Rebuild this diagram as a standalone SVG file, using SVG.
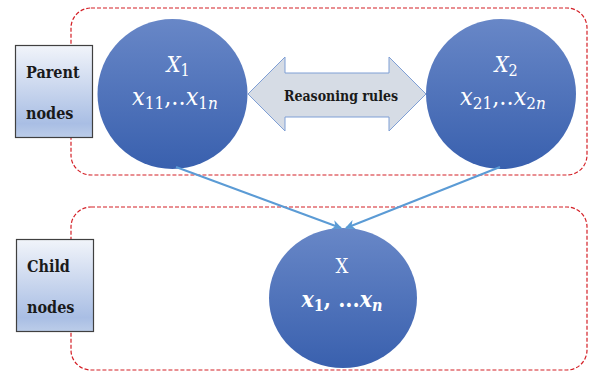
<svg xmlns="http://www.w3.org/2000/svg" width="590" height="374" viewBox="0 0 590 374">
<defs>
<linearGradient id="gc" x1="0" y1="0" x2="0" y2="1">
<stop offset="0" stop-color="#6887c7"/>
<stop offset="1" stop-color="#3960ae"/>
</linearGradient>
<linearGradient id="gb" x1="0" y1="0" x2="0" y2="1">
<stop offset="0" stop-color="#f1f4fa"/>
<stop offset="0.85" stop-color="#a9bee4"/>
<stop offset="1" stop-color="#bccde9"/>
</linearGradient>
<marker id="ah" viewBox="0 0 10 10" refX="9" refY="5" markerWidth="10" markerHeight="10" markerUnits="userSpaceOnUse" orient="auto">
<path d="M0,0 L10,5 L0,10 L3,5 Z" fill="#5b9bd5"/>
</marker>
<style>
text{font-family:"DejaVu Serif Condensed","DejaVu Serif",serif;font-stretch:condensed}
.grp{fill:none;stroke:#d42027;stroke-width:1.2;stroke-dasharray:4 2}
.box{fill:url(#gb);stroke:#404040;stroke-width:1.2}
.lbl{font-weight:bold;font-size:16px;fill:#1a1a1a}
.node{fill:url(#gc)}
.m{fill:#ffffff;text-anchor:middle}
.conn{stroke:#5b9bd5;stroke-width:2;fill:none;marker-end:url(#ah)}
</style>
</defs>
<rect class="grp" x="71" y="8" width="516" height="167" rx="20"/>
<rect class="grp" x="71" y="207" width="516" height="163" rx="20"/>
<g id="parent-label">
<rect class="box" x="15.5" y="45.5" width="77" height="92"/>
<text class="lbl" x="26" y="78">Parent</text>
<text class="lbl" x="26" y="119">nodes</text>
</g>
<g id="child-label">
<rect class="box" x="16.5" y="239.5" width="77" height="92"/>
<text class="lbl" x="27" y="272">Child</text>
<text class="lbl" x="27" y="313">nodes</text>
</g>
<g id="reasoning">
<path d="M248,94 L285,57 L285,73 L389,73 L389,57 L426,94 L389,131 L389,117 L285,117 L285,131 Z" fill="#d6dce5" stroke="#7f9fd5" stroke-width="1"/>
<text x="341" y="101" font-weight="bold" font-size="14" text-anchor="middle" fill="#1a1a1a">Reasoning rules</text>
</g>
<g id="X1">
<circle class="node" cx="172.5" cy="94" r="75"/>
<text class="m" x="178" y="72" font-size="22"><tspan font-style="italic">X</tspan><tspan font-size="16" dy="4">1</tspan></text>
<text class="m" x="175" y="105" font-size="25"><tspan font-style="italic">x</tspan><tspan font-size="17" dy="4">11</tspan><tspan dy="-4">,..</tspan><tspan font-style="italic">x</tspan><tspan font-size="17" dy="4">1</tspan><tspan font-size="17" font-style="italic">n</tspan></text>
</g>
<g id="X2">
<circle class="node" cx="501" cy="94" r="75"/>
<text class="m" x="506" y="72" font-size="22"><tspan font-style="italic">X</tspan><tspan font-size="16" dy="4">2</tspan></text>
<text class="m" x="503" y="105" font-size="25"><tspan font-style="italic">x</tspan><tspan font-size="17" dy="4">21</tspan><tspan dy="-4">,..</tspan><tspan font-style="italic">x</tspan><tspan font-size="17" dy="4">2</tspan><tspan font-size="17" font-style="italic">n</tspan></text>
</g>
<g id="X">
<ellipse class="node" cx="343" cy="298" rx="74" ry="70"/>
<text class="m" x="342" y="273" font-size="20">X</text>
<text class="m" x="342" y="307" font-size="23" font-weight="bold"><tspan font-style="italic">x</tspan><tspan font-size="16" dy="4">1</tspan><tspan dy="-4">, ...</tspan><tspan font-style="italic">x</tspan><tspan font-size="16" dy="4" font-style="italic">n</tspan></text>
</g>
<g id="connectors">
<line class="conn" x1="176" y1="167" x2="341" y2="228"/>
<line class="conn" x1="500" y1="167" x2="346" y2="228"/>
</g>
</svg>
